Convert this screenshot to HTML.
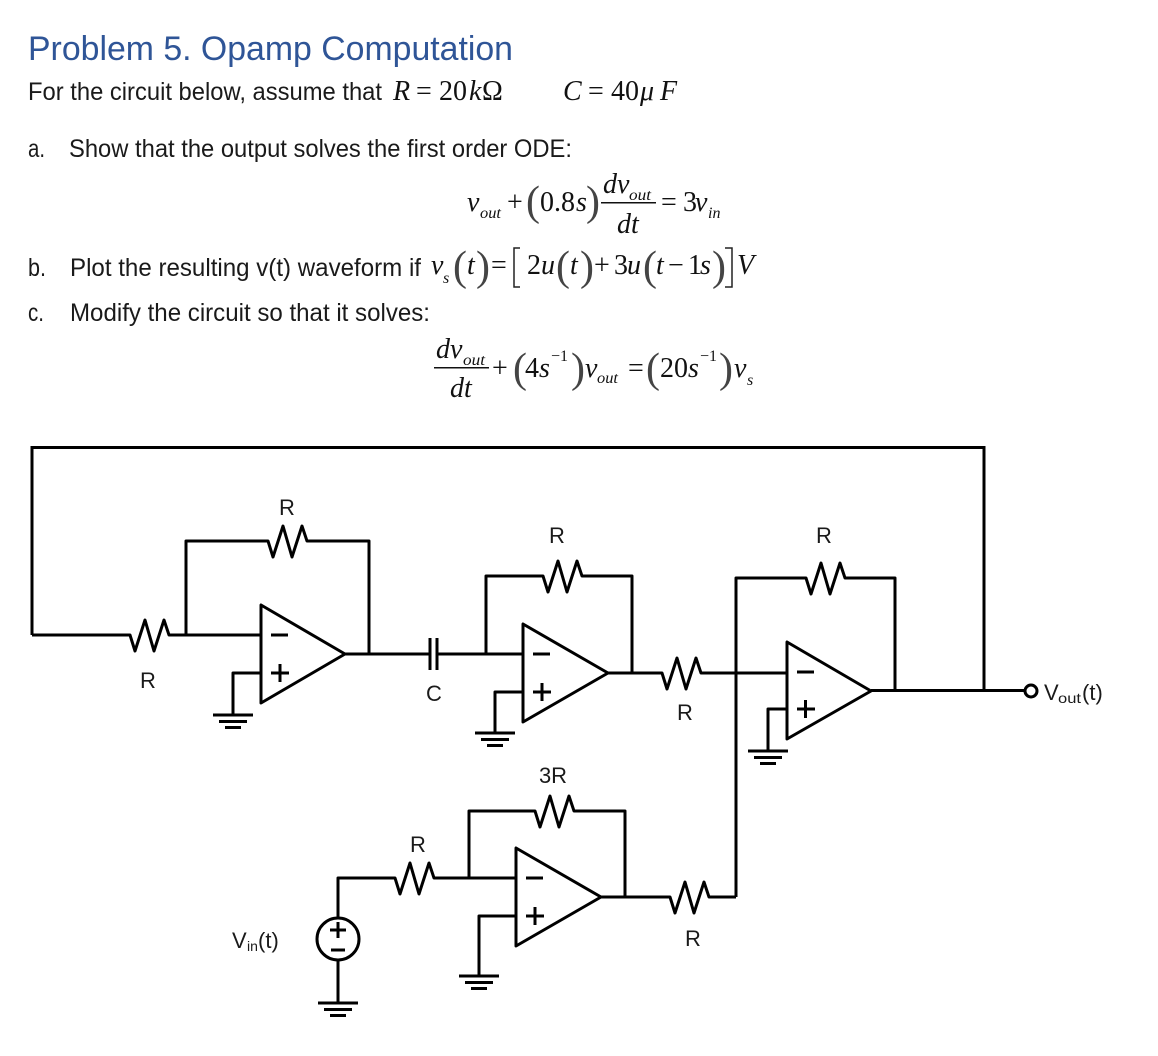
<!DOCTYPE html>
<html><head><meta charset="utf-8"><style>
html,body{margin:0;padding:0;background:#fff;width:1158px;height:1056px;overflow:hidden}
svg{display:block}
.t{font-family:"Liberation Sans",sans-serif;font-size:25px;fill:#1a1a1a}
.h{font-family:"Liberation Sans",sans-serif;font-size:34px;fill:#2f5597}
.m{font-family:"Liberation Serif",serif;font-size:28px;fill:#111}
.i{font-family:"Liberation Serif",serif;font-size:28px;font-style:italic;fill:#111}
.s{font-family:"Liberation Serif",serif;font-size:16px;font-style:italic;fill:#111}
.u{font-family:"Liberation Serif",serif;font-size:16px;fill:#111}
.p{font-family:"Liberation Serif",serif;font-size:42px;font-weight:normal;fill:#444}
.l{font-family:"Liberation Sans",sans-serif;font-size:22px;fill:#1a1a1a;text-anchor:middle}
.c{fill:none;stroke:#000;stroke-width:3;stroke-linejoin:round}
</style></head><body>
<svg width="1158" height="1056" viewBox="0 0 1158 1056" xmlns="http://www.w3.org/2000/svg">
<text class="h" x="28" y="60" textLength="485" lengthAdjust="spacingAndGlyphs">Problem 5. Opamp Computation</text>
<text class="t" x="28" y="100" textLength="354" lengthAdjust="spacingAndGlyphs">For the circuit below, assume that</text>
<text class="i" x="393" y="100">R</text><text class="m" x="416" y="100">=</text><text class="m" x="439" y="100">20</text><text class="i" x="469" y="100">k</text><text class="m" x="482" y="100">Ω</text>
<text class="i" x="563" y="100">C</text><text class="m" x="588" y="100">=</text><text class="m" x="611" y="100">40</text><text class="i" x="640" y="100">μ</text><text class="i" x="660" y="100">F</text>
<text class="t" x="28" y="157" textLength="17" lengthAdjust="spacingAndGlyphs">a.</text>
<text class="t" x="69" y="157" textLength="503" lengthAdjust="spacingAndGlyphs">Show that the output solves the first order ODE:</text>

<text class="i" x="467" y="211">v</text><text class="s" x="480" y="218" textLength="21" lengthAdjust="spacingAndGlyphs">out</text>
<text class="m" x="507" y="211">+</text><text class="p" x="526" y="215">(</text><text class="m" x="540" y="211">0.8</text><text class="i" x="576" y="211">s</text><text class="p" x="586" y="215">)</text>
<text class="i" x="603" y="193">dv</text><text class="s" x="629" y="200" textLength="22" lengthAdjust="spacingAndGlyphs">out</text>
<rect x="601" y="202" width="55" height="1.5" fill="#111"/>
<text class="i" x="617" y="233">dt</text>
<text class="m" x="661" y="211">=</text><text class="m" x="683" y="211">3</text><text class="i" x="695" y="211">v</text><text class="s" x="708" y="218">in</text>

<text class="t" x="28" y="276" textLength="18" lengthAdjust="spacingAndGlyphs">b.</text>
<text class="t" x="70" y="276" textLength="351" lengthAdjust="spacingAndGlyphs">Plot the resulting v(t) waveform if</text>
<text class="i" x="431" y="274">v</text><text class="s" x="443" y="283">s</text>
<text class="p" x="453" y="280">(</text><text class="i" x="467" y="274">t</text><text class="p" x="476" y="280">)</text>
<text class="m" x="491" y="274">=</text>
<path d="M520 248H514V287H520M725 248H732V287H725" fill="none" stroke="#222" stroke-width="1.5"/>
<text class="m" x="527" y="274">2</text><text class="i" x="541" y="274">u</text>
<text class="p" x="556" y="280">(</text><text class="i" x="570" y="274">t</text><text class="p" x="580" y="280">)</text>
<text class="m" x="594" y="274">+</text><text class="m" x="614" y="274">3</text><text class="i" x="627" y="274">u</text>
<text class="p" x="643" y="280">(</text><text class="i" x="656" y="274">t</text><text class="m" x="668" y="274">−</text><text class="m" x="688" y="274">1</text><text class="i" x="700" y="274">s</text><text class="p" x="712" y="280">)</text>
<text class="i" x="737" y="274">V</text>

<text class="t" x="28" y="321" textLength="16" lengthAdjust="spacingAndGlyphs">c.</text>
<text class="t" x="70" y="321" textLength="360" lengthAdjust="spacingAndGlyphs">Modify the circuit so that it solves:</text>

<text class="i" x="436" y="358">dv</text><text class="s" x="463" y="365" textLength="22" lengthAdjust="spacingAndGlyphs">out</text>
<rect x="434" y="367" width="55" height="1.5" fill="#111"/>
<text class="i" x="450" y="397">dt</text>
<text class="m" x="492" y="377">+</text><text class="p" x="513" y="382">(</text><text class="m" x="525" y="377">4</text><text class="i" x="539" y="377">s</text>
<text class="u" x="551" y="361">−1</text><text class="p" x="571" y="382">)</text>
<text class="i" x="585" y="377">v</text><text class="s" x="597" y="383" textLength="21" lengthAdjust="spacingAndGlyphs">out</text>
<text class="m" x="628" y="377">=</text><text class="p" x="646" y="382">(</text><text class="m" x="660" y="377">20</text><text class="i" x="688" y="377">s</text>
<text class="u" x="700" y="361">−1</text><text class="p" x="719" y="382">)</text>
<text class="i" x="734" y="377">v</text><text class="s" x="747" y="385">s</text>

<path class="c" d="M32 635V447.5H984V690" style="stroke-linejoin:miter"/>
<path class="c" d="M32 635H130l5 16l10 -31l9 31l10 -31l5 15H261"/>
<path class="c" d="M186 635V541H268l5 16l10 -31l9 31l10 -31l5 15H369V654"/>
<path class="c" d="M261 605V703L345 654Z"/>
<path class="c" d="M271 635H288M271 673H289M280 664V682"/>
<path class="c" d="M261 673H233V715M213 715H253M219 721.500H247M225 727.500H241"/>
<path class="c" d="M345 654H430M430 638V670M437 638V670M437 654H523"/>

<path class="c" d="M523 624V722L608 673Z"/>
<path class="c" d="M533 654H550M533 692H551M542 683V701"/>
<path class="c" d="M486 654V576H543l5 16l10 -31l9 31l10 -31l5 15H632V673"/>
<path class="c" d="M523 692H495V733M475 733H515M481 739.500H509M487 745.500H503"/>
<path class="c" d="M608 673H662l5 16l10 -31l9 31l10 -31l5 15H787"/>

<path class="c" d="M787 642V739L871 691Z"/>
<path class="c" d="M797 672H814M797 709H815M805.500 700V718"/>
<path class="c" d="M736 897V578H806l5 16l10 -31l9 31l10 -31l5 15H895V691"/>
<path class="c" d="M787 709H768V751M748 751H788M754 757.500H782M760 763.500H776"/>
<path class="c" d="M871 690.500H1025"/>
<circle class="c" cx="1031" cy="691" r="6"/>

<path class="c" d="M516 848V946L601 897Z"/>
<path class="c" d="M526 878H543M526 916H544M535 907V925"/>
<path class="c" d="M469 878V811H535l5 16l10 -31l9 31l10 -31l5 15H625V897"/>
<path class="c" d="M516 916H479V976M459 976H499M465 982.500H493M471 988.500H487"/>
<path class="c" d="M601 897H670l5 16l10 -31l9 31l10 -31l5 15H736"/>
<path class="c" d="M516 878H434l-5 -15l-10 31l-9 -31l-10 31l-5 -16H338V918"/>
<circle class="c" cx="338" cy="939" r="21"/>
<path class="c" d="M330 930H346M338 922V938M331 950H345"/>
<path class="c" d="M338 960V1003M318 1003H358M324 1009.500H352M330 1015.500H346"/>

<text class="l" x="287" y="515">R</text>
<text class="l" x="148" y="688">R</text>
<text class="l" x="434" y="701">C</text>
<text class="l" x="557" y="543">R</text>
<text class="l" x="685" y="720">R</text>
<text class="l" x="824" y="543">R</text>
<text class="l" x="553" y="783">3R</text>
<text class="l" x="418" y="852">R</text>
<text class="l" x="693" y="946">R</text>
<text class="l" x="232" y="948" style="text-anchor:start">V</text><text class="l" x="247" y="951" style="text-anchor:start;font-size:14px">in</text><text class="l" x="258" y="948" style="text-anchor:start">(t)</text>
<text class="l" x="1044" y="700" style="text-anchor:start">V</text><text class="l" x="1058" y="703" style="text-anchor:start;font-size:14px" textLength="23" lengthAdjust="spacingAndGlyphs">out</text><text class="l" x="1082" y="700" style="text-anchor:start">(t)</text>
</svg>
</body></html>
